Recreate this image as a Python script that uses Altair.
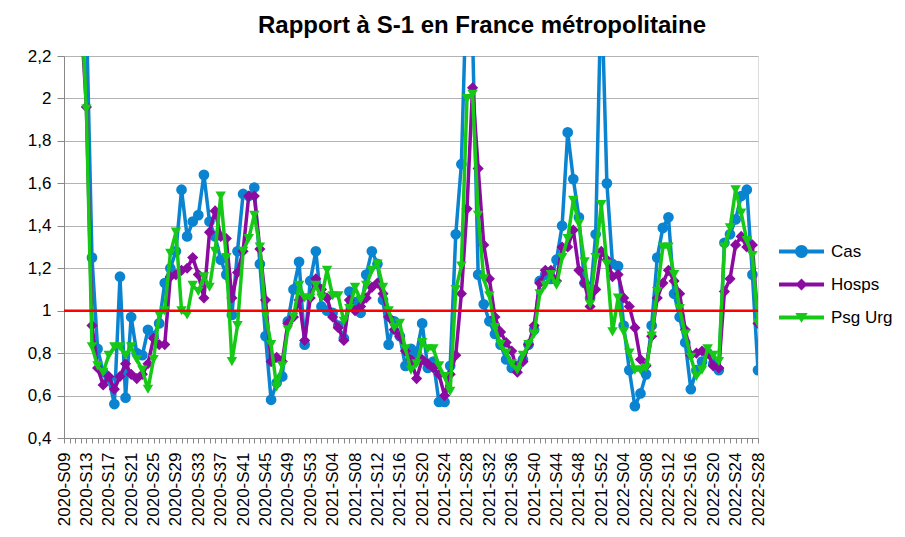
import json
import altair as alt
import pandas as pd

# ---- categories -------------------------------------------------------------
weeks = ([f"2020-S{w:02d}" for w in range(9, 54)]
         + [f"2021-S{w:02d}" for w in range(1, 53)]
         + [f"2022-S{w:02d}" for w in range(1, 29)])
label_weeks = weeks[::4]

series_names = ["Cas", "Hosps", "Psg Urg"]

# ---- series values (ratio to previous week) --------------------------------
cas = [
    4.0, 3.6, 3.3, 3.0, 2.4, 1.25, 0.82, 0.71, 0.68, 0.56,
    1.16, 0.59, 0.97, 0.80, 0.79, 0.91, 0.88, 0.94, 1.13, 1.20,
    1.28, 1.57, 1.35, 1.42, 1.45, 1.64, 1.42, 1.35, 1.24, 1.17,
    0.98, 1.28, 1.55, 1.54, 1.58, 1.22, 0.88, 0.58, 0.66, 0.69,
    0.95, 1.10, 1.23, 0.84, 1.14, 1.28, 1.02, 1.00, 0.99, 0.93,
    0.87, 1.09, 1.04, 0.99, 1.17, 1.28, 1.22, 1.05, 0.84, 0.95,
    0.88, 0.74, 0.82, 0.80, 0.94, 0.73, 0.76, 0.57, 0.57, 0.74,
    1.36, 1.69, 2.60, 2.30, 1.17, 1.03, 0.95, 0.89, 0.84, 0.77,
    0.73, 0.74, 0.77, 0.84, 0.91, 1.14, 1.17, 1.15, 1.24, 1.40,
    1.84, 1.62, 1.44, 1.13, 1.06, 1.36, 2.55, 1.60, 1.22, 1.21,
    0.93, 0.72, 0.55, 0.61, 0.70, 0.93, 1.25, 1.39, 1.44, 1.08,
    0.97, 0.85, 0.63, 0.72, 0.76, 0.80, 0.75, 0.72, 1.32, 1.36,
    1.43, 1.54, 1.57, 1.17, 0.72]

hosps = [
    2.5, 2.6, 2.8, 2.4, 1.96, 0.93, 0.73, 0.65, 0.69, 0.63,
    0.69, 0.75, 0.70, 0.68, 0.70, 0.75, 0.87, 0.84, 0.84, 1.16,
    1.17, 1.19, 1.20, 1.25, 1.17, 1.06, 1.37, 1.47, 1.35, 1.34,
    1.06, 1.18, 1.28, 1.54, 1.54, 1.29, 1.05, 0.76, 0.78, 0.76,
    0.94, 0.97, 1.05, 0.86, 1.06, 1.15, 1.10, 1.06, 0.97, 0.92,
    0.86, 1.05, 1.00, 1.02, 1.06, 1.11, 1.13, 1.08, 0.97, 0.91,
    0.88, 0.81, 0.77, 0.68, 0.77, 0.75, 0.73, 0.70, 0.60, 0.70,
    0.79, 1.08, 1.48, 2.05, 1.67, 1.31, 1.15, 0.97, 0.90, 0.85,
    0.81, 0.71, 0.76, 0.84, 0.93, 1.13, 1.19, 1.19, 1.14, 1.30,
    1.30, 1.38, 1.19, 1.13, 1.02, 1.10, 1.28, 1.24, 1.16, 1.17,
    1.06, 1.02, 0.92, 0.77, 0.74, 0.88, 1.06, 1.13, 1.19, 1.14,
    1.08, 0.91, 0.79, 0.80, 0.81, 0.80, 0.74, 0.73, 1.09, 1.15,
    1.31, 1.35, 1.30, 1.31, 0.94]

psg_urg = [
    2.6, 2.9, 3.0, 2.5, 1.95, 0.83, 0.74, 0.71, 0.79, 0.83,
    0.83, 0.79, 0.83, 0.77, 0.72, 0.63, 0.77, 0.98, 1.00, 1.27,
    1.37, 1.00, 0.98, 1.12, 1.09, 1.16, 1.11, 1.28, 1.54, 1.25,
    0.76, 0.93, 1.28, 1.34, 1.45, 1.30, 0.98, 0.84, 0.64, 0.74,
    0.91, 0.97, 1.12, 1.06, 1.06, 1.12, 1.06, 1.19, 1.07, 1.07,
    0.95, 1.01, 1.11, 1.05, 1.12, 1.19, 1.22, 1.11, 1.00, 0.92,
    0.94, 0.82, 0.72, 0.75, 0.85, 0.82, 0.82, 0.74, 0.69, 0.62,
    1.10, 1.21, 2.00, 2.02, 1.45, 1.15, 1.07, 0.92, 0.84, 0.80,
    0.75, 0.72, 0.79, 0.84, 0.89, 1.08, 1.12, 1.17, 1.12, 1.25,
    1.34, 1.52, 1.41, 1.23, 1.03, 1.25, 1.50, 1.22, 0.90, 1.06,
    0.90, 0.80, 0.72, 0.72, 0.73, 0.88, 1.09, 1.30, 1.30, 1.17,
    1.01, 0.89, 0.78, 0.69, 0.72, 0.82, 0.79, 0.76, 1.30, 1.39,
    1.57, 1.46, 1.33, 1.26, 0.94]

reference_level = [1]
y_ticks = [0.4, 0.6, 0.8, 1.0, 1.2, 1.4, 1.6, 1.8, 2.0, 2.2]

assert len(weeks) == len(cas) == len(hosps) == len(psg_urg) == 125

# ---- styling ------------------------------------------------------------------
colors = ["#0a84d0", "#8b0a9f", "#16c916"]
marker_shapes = ["circle", "diamond", "triangle-down"]
marker_sizes = [115, 125, 110]
FONT = "Liberation Sans"
GRID = "#b3b3b3"

bar = "M-3.46,-0.3H3.46V0.3H-3.46Z"
legend_paths = [
    bar + "M1,0A1,1,0,1,1,-1,0A1,1,0,1,1,1,0Z",
    bar + "M0,-0.92L0.92,0L0,0.92L-0.92,0Z",
    bar + "M-0.95,-0.7L0.95,-0.7L0,0.8Z",
]

rows = []
for name, vals in zip(series_names, [cas, hosps, psg_urg]):
    for w, v in zip(weeks, vals):
        rows.append({"semaine": w, "serie": name, "valeur": v})
df = pd.DataFrame(rows)

label_expr = ("indexof(" + json.dumps(label_weeks) +
              ", datum.value) >= 0 ? datum.label : ''")

x_enc = alt.X(
    "semaine:O", sort=weeks,
    scale=alt.Scale(type="point", padding=0),
    axis=alt.Axis(title=None, labelAngle=270, labelAlign="right",
                  labelBaseline="middle", labelExpr=label_expr,
                  labelOverlap=False, tickSize=5, labelPadding=9,
                  labelFontSize=17, grid=False),
)
y_enc = alt.Y(
    "valeur:Q",
    scale=alt.Scale(domain=[0.4, 2.2], nice=False, zero=False),
    axis=alt.Axis(title=None, values=y_ticks,
                  labelExpr="replace(format(datum.value, '.1~f'), '.', ',')",
                  labelFontSize=17, tickSize=7, labelPadding=6, grid=True,
                  gridColor=GRID, gridWidth=1),
)

layers = []
for name, col, shp, sz in zip(series_names, colors, marker_shapes, marker_sizes):
    base = alt.Chart(df).transform_filter(alt.datum.serie == name)
    layers.append(
        base.mark_line(clip=True, strokeWidth=3.5, strokeJoin="round",
                       color=col).encode(x=x_enc, y=y_enc))
    layers.append(
        base.mark_point(clip=True, filled=True, shape=shp, size=sz,
                        opacity=1, color=col).encode(x=x_enc, y=y_enc))

rule = alt.Chart(pd.DataFrame({"niveau": reference_level})).mark_rule(
    color="#ff0000", strokeWidth=2.5).encode(y=alt.Y("niveau:Q"))
layers.append(rule)

legend_props = dict(title=None, orient="none", legendX=729, legendY=187,
                    labelFontSize=17, labelFont=FONT, labelColor="#000000",
                    symbolSize=169, symbolStrokeWidth=0, labelOffset=21,
                    rowPadding=15, padding=0, symbolOpacity=1)
legend_layer = alt.Chart(df).mark_point(
    filled=True, opacity=0, size=169, clip=True).encode(
    x=x_enc, y=y_enc,
    fill=alt.Fill("serie:N",
                  scale=alt.Scale(domain=series_names, range=colors),
                  sort=series_names, legend=alt.Legend(**legend_props)),
    shape=alt.Shape("serie:N",
                    scale=alt.Scale(domain=series_names, range=legend_paths),
                    sort=series_names, legend=alt.Legend(**legend_props)),
)
layers.append(legend_layer)

chart = alt.layer(*layers).properties(
    width=694, height=382,
    title=alt.TitleParams("Rapport à S-1 en France métropolitaine",
                          fontSize=24, fontWeight="bold", font=FONT,
                          anchor="middle", dx=71, offset=9, color="#000000"),
    autosize=alt.AutoSizeParams(type="none"),
    padding={"left": 56, "top": 48, "right": 138, "bottom": 92},
).configure_view(stroke=GRID, strokeWidth=1).configure_axis(
    labelFont=FONT, labelColor="#000000", tickColor=GRID, domainColor=GRID,
).configure(background="#ffffff")

chart.save("out.html", embed_options={"renderer": "svg", "actions": False})
